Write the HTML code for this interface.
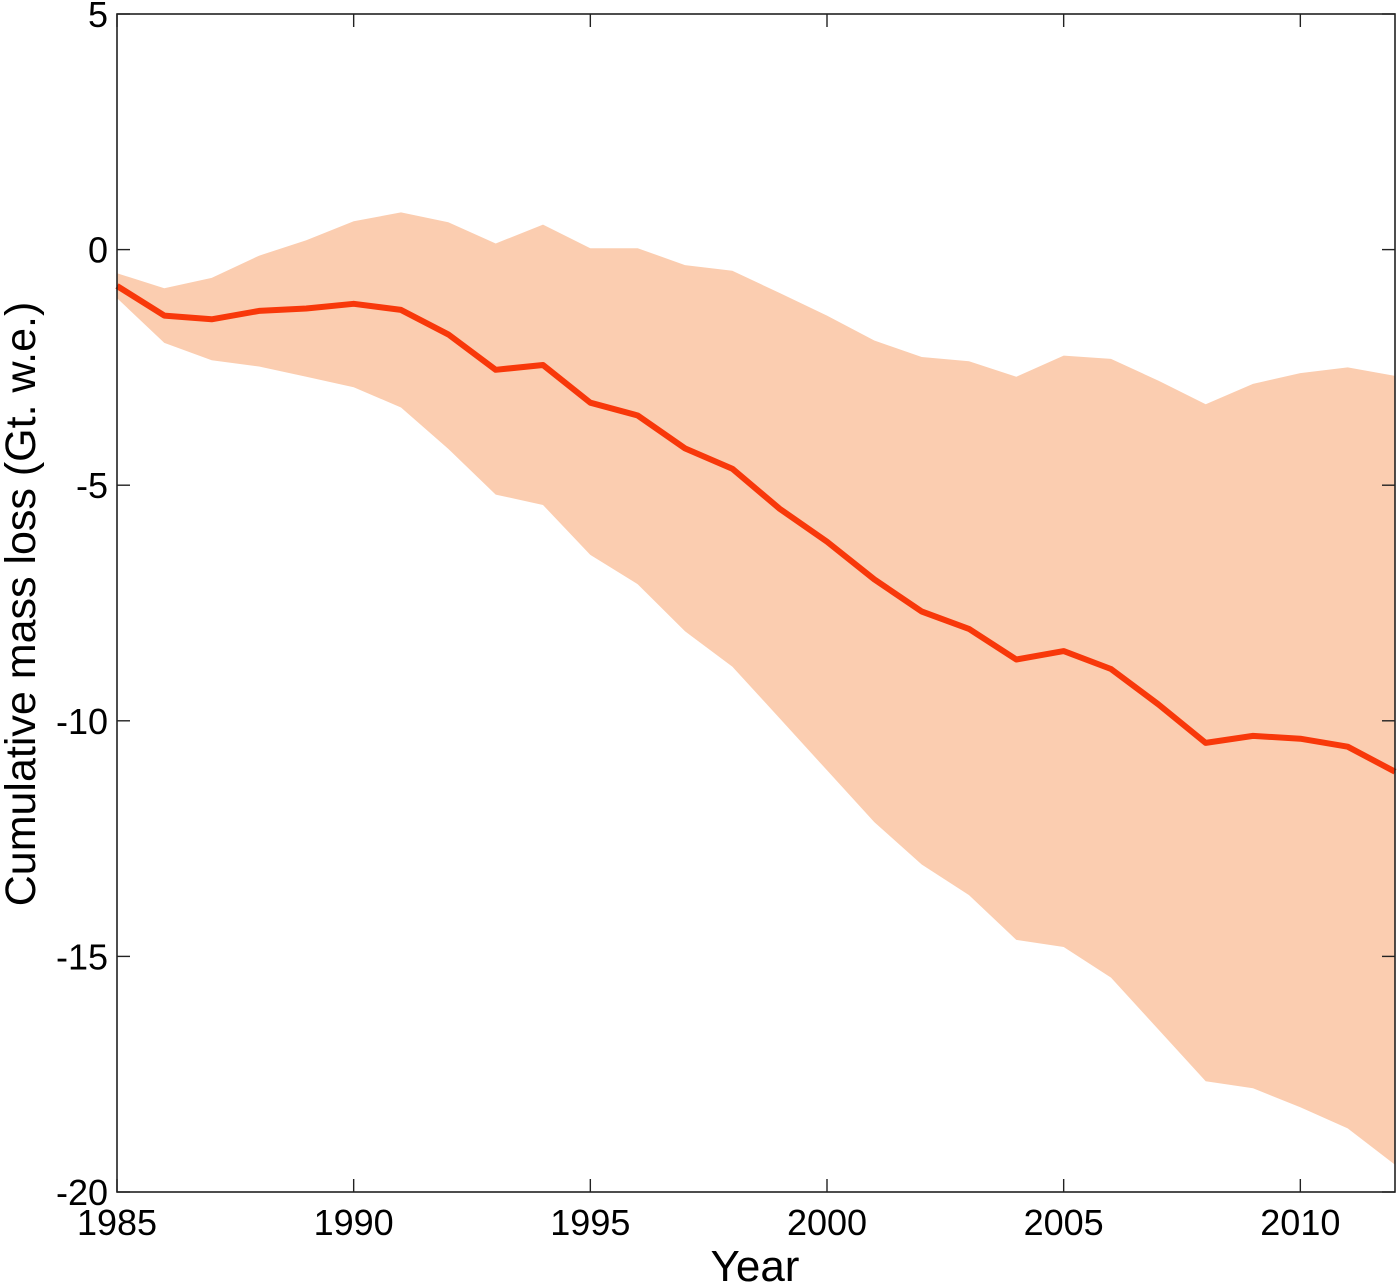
<!DOCTYPE html>
<html lang="en">
<head>
<meta charset="utf-8">
<title>Cumulative mass loss</title>
<style>
html,body{margin:0;padding:0;background:#fff;}
svg{display:block;font-family:"Liberation Sans",Arial,sans-serif;}
</style>
</head>
<body>
<svg id="chart" xmlns="http://www.w3.org/2000/svg" width="1400" height="1284" viewBox="0 0 1400 1284"></svg>
<script>
const years = [1985,1986,1987,1988,1989,1990,1991,1992,1993,1994,1995,1996,1997,1998,1999,2000,2001,2002,2003,2004,2005,2006,2007,2008,2009,2010,2011,2012];
const meanValues = [-0.77,-1.4,-1.48,-1.3,-1.25,-1.15,-1.28,-1.8,-2.55,-2.45,-3.25,-3.52,-4.22,-4.65,-5.5,-6.2,-7.0,-7.68,-8.05,-8.7,-8.52,-8.9,-9.65,-10.47,-10.32,-10.38,-10.55,-11.08];
const upperValues = [-0.5,-0.82,-0.6,-0.13,0.2,0.6,0.79,0.58,0.13,0.53,0.03,0.03,-0.33,-0.45,-0.92,-1.4,-1.93,-2.28,-2.37,-2.7,-2.25,-2.32,-2.78,-3.28,-2.85,-2.62,-2.5,-2.68];
const lowerValues = [-1.03,-1.98,-2.35,-2.48,-2.7,-2.92,-3.35,-4.23,-5.2,-5.42,-6.48,-7.1,-8.1,-8.85,-9.95,-11.05,-12.15,-13.05,-13.7,-14.65,-14.8,-15.45,-16.55,-17.65,-17.8,-18.2,-18.65,-19.42];
const xTickLabels = [1985,1990,1995,2000,2005,2010];
const yTickLabels = [5,0,-5,-10,-15,-20];

const NS = 'http://www.w3.org/2000/svg';
const svg = document.getElementById('chart');
const plot = {left:117, right:1395, top:14, bottom:1192};
const xDomain = [1985, 2012];
const yDomain = [-20, 5];
function xScale(v){ return plot.left + (v - xDomain[0]) / (xDomain[1] - xDomain[0]) * (plot.right - plot.left); }
function yScale(v){ return plot.bottom - (v - yDomain[0]) / (yDomain[1] - yDomain[0]) * (plot.bottom - plot.top); }
function make(tag, attrs, text){
  const el = document.createElementNS(NS, tag);
  for (const k in attrs) el.setAttribute(k, attrs[k]);
  if (text !== undefined) el.textContent = text;
  svg.appendChild(el);
  return el;
}
const AXIS = '#222';
const bg = make('rect', {x:0, y:0, width:1400, height:1284, fill:'#fff'});



const upperPts = years.map((y,i) => xScale(y).toFixed(1) + ',' + yScale(upperValues[i]).toFixed(1));
const lowerPts = years.map((y,i) => xScale(y).toFixed(1) + ',' + yScale(lowerValues[i]).toFixed(1)).reverse();
const band = make('polygon', {points: upperPts.concat(lowerPts).join(' '), fill:'#fbcdb0'});



const meanPts = years.map((y,i) => xScale(y).toFixed(1) + ',' + yScale(meanValues[i]).toFixed(1));
const line = make('polyline', {points: meanPts.join(' '), fill:'none', stroke:'#f8380a', 'stroke-width':6, 'stroke-linejoin':'round'});



const frame = make('rect', {x:plot.left, y:plot.top, width:plot.right-plot.left, height:plot.bottom-plot.top, fill:'none', stroke:AXIS, 'stroke-width':1.6});



xTickLabels.forEach(function(t){
  const x = xScale(t);
  const tb = make('line', {x1:x, x2:x, y1:plot.bottom, y2:plot.bottom-13, stroke:AXIS, 'stroke-width':1.4});
  
  
  const tt = make('line', {x1:x, x2:x, y1:plot.top, y2:plot.top+13, stroke:AXIS, 'stroke-width':1.4});
  
  
  const lb = make('text', {x:x, y:1235, 'text-anchor':'middle', 'font-size':36, fill:'#000'}, String(t));
  
  
});
yTickLabels.forEach(function(t){
  const y = yScale(t);
  const tl = make('line', {x1:plot.left, x2:plot.left+13, y1:y, y2:y, stroke:AXIS, 'stroke-width':1.4});
  
  
  const tr = make('line', {x1:plot.right, x2:plot.right-13, y1:y, y2:y, stroke:AXIS, 'stroke-width':1.4});
  
  
  const lb = make('text', {x:108, y:y+13, 'text-anchor':'end', 'font-size':36, fill:'#000'}, String(t));
  
  
});
const xTitle = make('text', {x:755, y:1281, 'text-anchor':'middle', 'font-size':44, fill:'#000'}, 'Year');


const yTitle = make('text', {transform:'translate(35,604) rotate(-90)', 'text-anchor':'middle', 'font-size':43, fill:'#000'}, 'Cumulative mass loss (Gt. w.e.)');


</script>
</body>
</html>
